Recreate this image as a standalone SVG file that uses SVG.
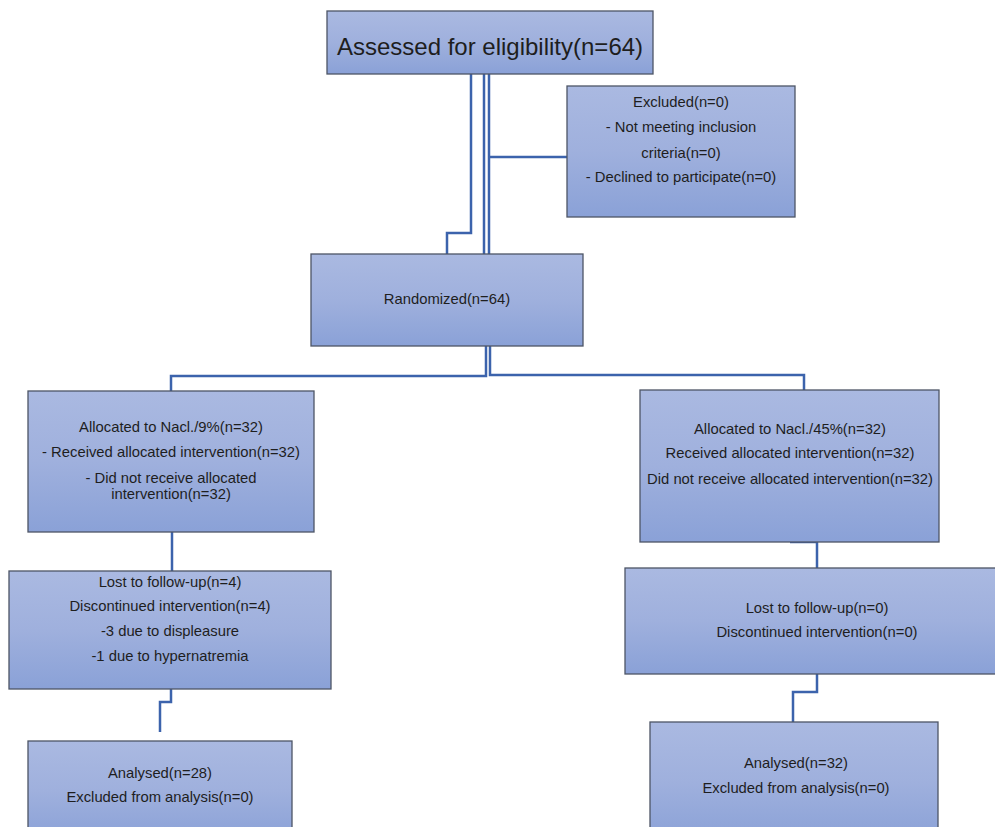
<svg xmlns="http://www.w3.org/2000/svg" width="995" height="827" viewBox="0 0 995 827">
<defs>
<linearGradient id="g" x1="0" y1="0" x2="0" y2="1">
<stop offset="0" stop-color="#aab9e1"/>
<stop offset="0.5" stop-color="#9fb0dd"/>
<stop offset="1" stop-color="#8aa1d7"/>
</linearGradient>
</defs>
<style>
.box{fill:url(#g);stroke:#4d5566;stroke-width:1.3}
.t{font-family:"Liberation Sans",Arial,sans-serif;font-size:14.8px;fill:#1e1e1e;text-anchor:middle}
.c{fill:none;stroke:#3c63ac;stroke-width:2.5}
</style>
<rect width="995" height="827" fill="#fff"/>
<g id="connectors">
<polyline class="c" points="471,74 471,233 447,233 447,254"/>
<line class="c" x1="484" y1="74" x2="484" y2="254"/>
<line class="c" x1="489" y1="74" x2="489" y2="254"/>
<line class="c" x1="489" y1="157" x2="567" y2="157"/>
<polyline class="c" points="486,346 486,376 171,376 171,391"/>
<polyline class="c" points="490,346 490,375 804,375 804,390"/>
<line class="c" x1="172" y1="532" x2="172" y2="571"/>
<polyline class="c" points="790,542 817,542 817,568"/>
<polyline class="c" points="171,689 171,702 160,702 160,732"/>
<polyline class="c" points="817,674 817,692 793,692 793,722"/>
</g>
<g id="assessed">
<rect class="box" x="327" y="11" width="326" height="63"/>
<text class="t" x="490" y="55" style="font-size:24px">Assessed for eligibility(n=64)</text>
</g>
<g id="excluded">
<rect class="box" x="567" y="86" width="228" height="131"/>
<text class="t" x="681" y="107">Excluded(n=0)</text>
<text class="t" x="681" y="132">- Not meeting inclusion</text>
<text class="t" x="681" y="158">criteria(n=0)</text>
<text class="t" x="681" y="182">- Declined to participate(n=0)</text>
</g>
<g id="randomized">
<rect class="box" x="311" y="254" width="272" height="92"/>
<text class="t" x="447" y="304">Randomized(n=64)</text>
</g>
<g id="alloc-left">
<rect class="box" x="28" y="391" width="286" height="141"/>
<text class="t" x="171" y="432">Allocated to Nacl./9%(n=32)</text>
<text class="t" x="171" y="457">- Received allocated intervention(n=32)</text>
<text class="t" x="171" y="483">- Did not receive allocated</text>
<text class="t" x="171" y="499">intervention(n=32)</text>
</g>
<g id="alloc-right">
<rect class="box" x="640" y="390" width="299" height="152"/>
<text class="t" x="790" y="434">Allocated to Nacl./45%(n=32)</text>
<text class="t" x="790" y="458">Received allocated intervention(n=32)</text>
<text class="t" x="790" y="484">Did not receive allocated intervention(n=32)</text>
</g>
<g id="lost-left">
<rect class="box" x="9" y="571" width="322" height="118"/>
<text class="t" x="170" y="587">Lost to follow-up(n=4)</text>
<text class="t" x="170" y="611">Discontinued intervention(n=4)</text>
<text class="t" x="170" y="636">-3 due to displeasure</text>
<text class="t" x="170" y="661">-1 due to hypernatremia</text>
</g>
<g id="lost-right">
<rect class="box" x="625" y="568" width="380" height="106"/>
<text class="t" x="817" y="613">Lost to follow-up(n=0)</text>
<text class="t" x="817" y="637">Discontinued intervention(n=0)</text>
</g>
<g id="analysed-left">
<rect class="box" x="28" y="741" width="264" height="100"/>
<text class="t" x="160" y="778">Analysed(n=28)</text>
<text class="t" x="160" y="802">Excluded from analysis(n=0)</text>
</g>
<g id="analysed-right">
<rect class="box" x="650" y="722" width="288" height="120"/>
<text class="t" x="796" y="768">Analysed(n=32)</text>
<text class="t" x="796" y="793">Excluded from analysis(n=0)</text>
</g>
</svg>
